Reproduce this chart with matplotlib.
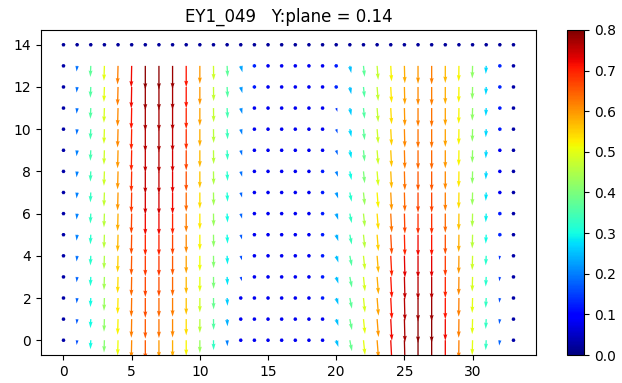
import numpy as np
import matplotlib
matplotlib.use("Agg")
import matplotlib.pyplot as plt

title = "EY1_049   Y:plane = 0.14"
x_vals = list(range(34))
y_vals = list(range(15))

# colour magnitude per grid cell, rows listed from y=14 (top) down to y=0
speed_rows = {
    14: [0.02] * 34,
    13: [.03, .19, .37, .50, .62, .72, .79, .79, .78, .71, .60, .48, .37, .23, .13, .08, .08, .08, .08, .08,
         .12, .25, .37, .47, .52, .58, .60, .62, .57, .52, .42, .27, .13, .03],
    12: [.03, .19, .36, .50, .62, .72, .78, .78, .77, .71, .60, .47, .36, .22, .12, .08, .08, .08, .08, .08,
         .13, .25, .36, .47, .53, .59, .61, .62, .58, .52, .42, .27, .13, .03],
    11: [.03, .19, .36, .49, .61, .71, .77, .77, .76, .70, .59, .47, .35, .21, .08, .08, .08, .08, .08, .08,
         .14, .26, .36, .47, .54, .60, .62, .63, .59, .52, .42, .27, .12, .03],
    10: [.03, .19, .35, .49, .61, .70, .76, .77, .75, .69, .58, .46, .34, .20, .08, .08, .08, .08, .08, .08,
         .16, .27, .37, .48, .55, .61, .63, .63, .59, .52, .42, .27, .12, .03],
    9:  [.03, .20, .35, .48, .60, .70, .75, .76, .74, .67, .57, .46, .33, .19, .08, .08, .08, .08, .08, .08,
         .18, .28, .38, .48, .56, .62, .64, .64, .60, .52, .42, .27, .08, .03],
    8:  [.03, .20, .34, .48, .60, .69, .75, .75, .73, .66, .56, .45, .32, .19, .08, .08, .08, .08, .08, .12,
         .20, .30, .40, .49, .57, .63, .65, .65, .61, .53, .42, .27, .08, .03],
    7:  [.03, .20, .33, .47, .60, .68, .74, .74, .72, .64, .54, .44, .31, .18, .08, .08, .08, .08, .08, .12,
         .22, .32, .43, .52, .60, .64, .67, .67, .62, .54, .43, .28, .08, .03],
    6:  [.03, .20, .33, .46, .58, .67, .72, .72, .70, .62, .53, .43, .30, .18, .08, .08, .08, .08, .08, .12,
         .23, .33, .45, .54, .63, .67, .69, .69, .64, .56, .45, .29, .12, .03],
    5:  [.03, .20, .32, .46, .57, .66, .70, .70, .67, .61, .52, .42, .30, .17, .08, .08, .08, .08, .08, .12,
         .24, .34, .46, .55, .66, .70, .72, .71, .66, .58, .46, .30, .13, .03],
    4:  [.03, .19, .32, .45, .55, .65, .68, .68, .65, .59, .51, .41, .29, .16, .08, .08, .08, .08, .08, .12,
         .25, .36, .48, .57, .70, .73, .74, .73, .68, .60, .48, .32, .14, .03],
    3:  [.03, .18, .31, .44, .54, .64, .67, .66, .64, .57, .50, .40, .28, .15, .08, .08, .08, .08, .08, .12,
         .25, .37, .49, .58, .71, .75, .76, .76, .70, .61, .49, .32, .15, .03],
    2:  [.03, .18, .30, .43, .53, .63, .66, .64, .62, .56, .48, .38, .26, .08, .08, .08, .08, .08, .08, .12,
         .25, .37, .49, .59, .71, .76, .78, .78, .71, .62, .50, .33, .16, .03],
    1:  [.03, .17, .30, .42, .52, .62, .65, .63, .61, .54, .46, .36, .24, .08, .08, .08, .08, .08, .08, .08,
         .25, .38, .50, .60, .72, .77, .79, .79, .72, .62, .50, .33, .17, .03],
    0:  [.03, .16, .30, .41, .51, .61, .65, .60, .58, .52, .43, .33, .20, .08, .08, .08, .08, .08, .08, .08,
         .25, .38, .50, .60, .72, .78, .80, .79, .72, .62, .50, .33, .18, .03],
}

# sideways lean of the arrows per column (u / |v| in data units)
lean = [0.0, -0.15, -0.06, -0.05, -0.04, -0.03, 0.0, 0.0, 0.0, 0.0, 0.0, 0.02, 0.08, 0.4, 0.0,
        0.0, 0.0, 0.0, 0.0, 1.0, 0.5, 0.3, 0.16, 0.12, 0.08, 0.04, 0.0, 0.0, 0.0, -0.02, -0.04, -0.08, -0.2, 0.0]

X, Y = np.meshgrid(x_vals, y_vals)
C = np.array([speed_rows[y] for y in y_vals])
lean_arr = np.array(lean)[None, :].repeat(len(y_vals), axis=0)
moving = C >= 0.1
ang = np.arctan(lean_arr)
U = np.where(moving, C * np.sin(ang), 0.0)
V = np.where(moving, -C * np.cos(ang), 0.0)

fig = plt.figure(figsize=(6.22, 3.83), dpi=100)
ax = fig.add_axes([0.0659, 0.0731, 0.7958, 0.8486])
cax = fig.add_axes([0.9116, 0.0731, 0.0273, 0.8486])

q = ax.quiver(X, Y, U, V, C, cmap="jet", angles="xy", scale_units="xy", scale=0.7,
              minlength=3)
q.set_clim(0, 0.8)
ax.set_title(title, fontsize=12)
cb = fig.colorbar(q, cax=cax)
cb.set_ticks(np.arange(0, 0.81, 0.1))

fig.savefig("out.png", dpi=100)
